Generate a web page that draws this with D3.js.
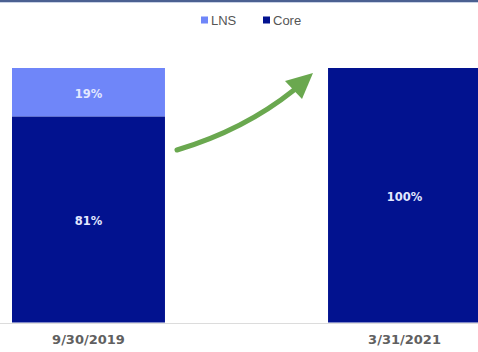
<!DOCTYPE html>
<html>
<head>
<meta charset="utf-8">
<script src="https://cdn.jsdelivr.net/npm/d3@7/dist/d3.min.js"></script>
<style>
  body { margin: 0; background: #fff; }
  svg { display: block; }
</style>
</head>
<body>
<svg id="chart" width="478" height="352"></svg>
<script>
"use strict";

const categories = ["9/30/2019", "3/31/2021"];
const seriesNames = ["Core", "LNS"];
const coreValues = [81, 100];
const lnsValues = [19, 0];

const W = 478, H = 352;
const COLORS = { Core: "#02128f", LNS: "#6f86f9" };

const svg = d3.select("#chart");

// top rule
svg.append("rect").attr("x", 0).attr("y", 0).attr("width", W).attr("height", 2).attr("fill", "#4b6091");
svg.append("rect").attr("x", 0).attr("y", 2).attr("width", W).attr("height", 1).attr("fill", "#c9d2e6");

const x = d3.scaleBand().domain(categories).range([0, 493])
  .paddingInner(0.516).paddingOuter(0.038);
const y = d3.scaleLinear().domain([0, 100]).range([322.5, 68]);

const rows = categories.map((c, i) => ({ cat: c, Core: coreValues[i], LNS: lnsValues[i] }));
const stacked = d3.stack().keys(seriesNames)(rows);

// baseline
svg.append("line").attr("x1", 0).attr("x2", W).attr("y1", 323.5).attr("y2", 323.5)
  .attr("stroke", "#dcdcdc").attr("stroke-width", 1);

const layers = svg.selectAll("g.layer").data(stacked).join("g")
  .attr("class", "layer").attr("fill", d => COLORS[d.key]);

layers.selectAll("rect").data(d => d).join("rect")
  .attr("x", d => x(d.data.cat))
  .attr("y", d => y(d[1]))
  .attr("width", x.bandwidth())
  .attr("height", d => y(d[0]) - y(d[1]));

// value labels
stacked.forEach(layer => {
  layer.forEach(d => {
    const v = d[1] - d[0];
    if (!v) return;
    svg.append("text")
      .attr("x", x(d.data.cat) + x.bandwidth() / 2)
      .attr("y", (y(d[0]) + y(d[1])) / 2 + 5.5)
      .attr("text-anchor", "middle")
      .attr("font-family", "DejaVu Sans, sans-serif")
      .attr("font-weight", "bold")
      .attr("font-size", 11.5)
      .attr("fill", "#e3e8ff")
      .text(v + "%");
  });
});

// x axis labels
const xAxis = svg.append("g").attr("transform", "translate(0,323)")
  .call(d3.axisBottom(x).tickSize(0).tickPadding(12));
xAxis.select(".domain").remove();
xAxis.selectAll("text")
  .attr("font-family", "DejaVu Sans, sans-serif")
  .attr("font-weight", "bold")
  .attr("font-size", 13)
  .attr("fill", "#606060");

// legend
const legendItems = [
  { name: "LNS", x: 201 },
  { name: "Core", x: 263 }
];
const legend = svg.append("g");
legendItems.forEach(it => {
  legend.append("rect").attr("x", it.x).attr("y", 16.5).attr("width", 7).attr("height", 7)
    .attr("fill", COLORS[it.name]);
  legend.append("text").attr("x", it.x + 10).attr("y", 25)
    .attr("font-family", "Liberation Sans, Arial, sans-serif")
    .attr("font-size", 13).attr("fill", "#555")
    .text(it.name);
});

// growth arrow
const green = "#6aa84f";
svg.append("path")
  .attr("d", "M177,150 Q244,130 294,90")
  .attr("fill", "none").attr("stroke", green)
  .attr("stroke-width", 5).attr("stroke-linecap", "round");
svg.append("path")
  .attr("d", "M313,73 L285,81 L302,99 Z")
  .attr("fill", green);
</script>
</body>
</html>
